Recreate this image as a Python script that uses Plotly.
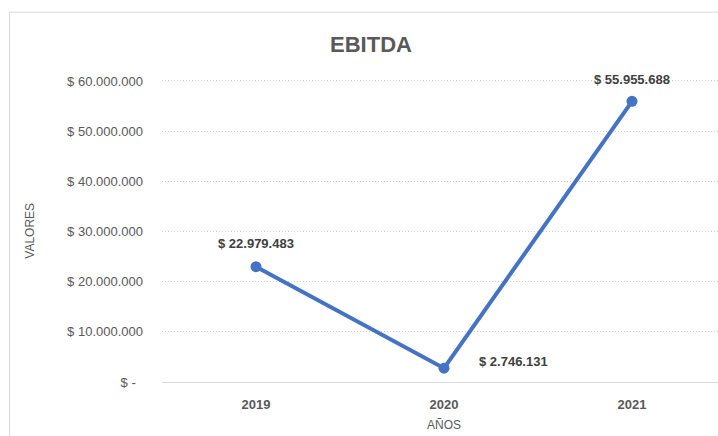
import plotly.graph_objects as go

years = ["2019", "2020", "2021"]
ebitda = [22979483, 2746131, 55955688]
labels = ["$ 22.979.483", "$ 2.746.131", "$ 55.955.688"]
tick_vals = [0, 10000000, 20000000, 30000000, 40000000, 50000000, 60000000]
tick_text = ["$ -\u00a0\u00a0", "$ 10.000.000", "$ 20.000.000", "$ 30.000.000",
             "$ 40.000.000", "$ 50.000.000", "$ 60.000.000"]

FONT = "Liberation Sans, Arial, sans-serif"
L, R, T, B = 162, 0, 70, 54
W, H = 718, 436
pw, ph = W - L - R, H - T - B

fig = go.Figure()
fig.add_trace(go.Scatter(
    x=years, y=ebitda, mode="lines+markers",
    line=dict(color="#4472C4", width=4),
    marker=dict(color="#4472C4", size=11),
    cliponaxis=False, hoverinfo="skip",
))

# data labels (category axis -> annotation x given as category index)
offsets = [(0, 23), (69, 7), (0, 22)]
for i, (yv, txt, (dx, dy)) in enumerate(zip(ebitda, labels, offsets)):
    fig.add_annotation(x=i, y=yv, text="<b>%s</b>" % txt, showarrow=False,
                       xshift=dx, yshift=dy, xanchor="center", yanchor="middle",
                       font=dict(family=FONT, size=13, color="#404040"))

fig.add_annotation(xref="paper", yref="paper", x=(30 - L) / pw, y=(382.3 - 231) / ph,
                   text="VALORES", textangle=-90, showarrow=False,
                   xanchor="center", yanchor="middle",
                   font=dict(family=FONT, size=12, color="#595959"))
fig.add_annotation(xref="paper", yref="paper", x=(444 - L) / pw, y=(382.3 - 425) / ph,
                   text="AÑOS", showarrow=False, xanchor="center", yanchor="middle",
                   font=dict(family=FONT, size=12, color="#595959"))

# chart border
fig.add_shape(type="rect", xref="paper", yref="paper",
              x0=(9.5 - L) / pw, x1=1.2, y0=-0.5, y1=(382.3 - 12.5) / ph,
              line=dict(color="#D9D9D9", width=1), layer="below")

fig.update_layout(
    width=W, height=H,
    margin=dict(l=L, r=R, t=T, b=B),
    paper_bgcolor="white", plot_bgcolor="white",
    showlegend=False,
    title=dict(text="<b>EBITDA</b>", x=371 / W, xanchor="center",
               y=1 - 44 / H, yanchor="middle",
               font=dict(family=FONT, size=22, color="#595959")),
    xaxis=dict(type="category", range=[-0.5, -0.5 + pw / 188.0],
               showgrid=False, showline=True, linecolor="#D9D9D9", linewidth=1,
               ticks="", ticklabelstandoff=10, zeroline=False,
               tickfont=dict(family=FONT, size=13, color="#595959", weight="bold")),
    yaxis=dict(range=[0, 60000000 * (382.3 - 70) / (382.3 - 81)],
               tickvals=tick_vals, ticktext=tick_text,
               showgrid=True, gridcolor="#D0D0D0", griddash="1px,2px", gridwidth=1,
               zeroline=False, showline=False, ticks="", ticklabelstandoff=18,
               tickfont=dict(family=FONT, size=13, color="#595959")),
)

fig.write_html("out.html", config={"displayModeBar": False},
               post_script="document.body.style.margin='0';document.body.style.overflow='hidden';")
